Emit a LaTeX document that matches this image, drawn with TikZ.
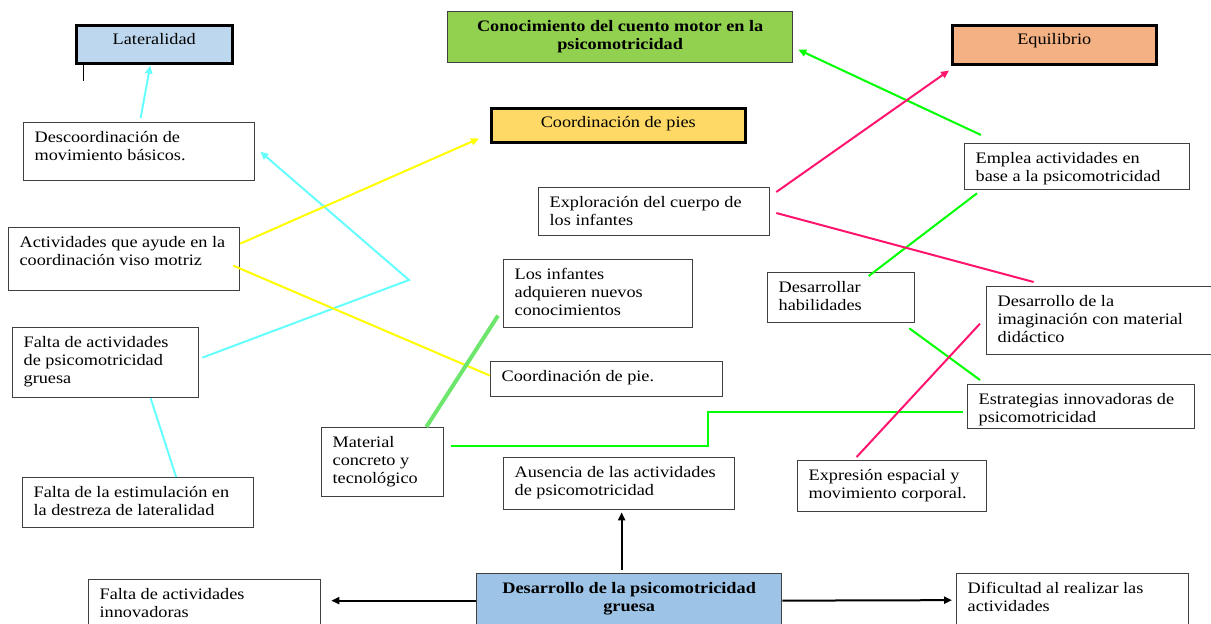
\documentclass[tikz,border=0pt]{standalone}
\usepackage{fontspec}
\setmainfont[FakeStretch=1.14]{Liberation Serif}
\usetikzlibrary{arrows.meta}
\definecolor{latblue}{RGB}{189,215,238}
\definecolor{hdrgreen}{RGB}{146,208,80}
\definecolor{eqorange}{RGB}{244,177,131}
\definecolor{piesyellow}{RGB}{255,217,102}
\definecolor{grublue}{RGB}{157,195,230}
\definecolor{boxgray}{RGB}{64,64,64}
\definecolor{cyanl}{RGB}{102,255,255}
\definecolor{yell}{RGB}{255,255,0}
\definecolor{grnl}{RGB}{0,255,0}
\definecolor{lgrnl}{RGB}{110,230,110}
\definecolor{pnkl}{RGB}{255,20,110}
\newcommand\bxsep{11}
\newcommand\bysep{7}
\newcommand\mkbox[7]{%
 \pgfmathsetmacro\mybw{#5-#3-2*\bxsep}%
 \pgfmathsetmacro\mybh{#6-#4-2*\bysep}%
 \node[#2, anchor=north west, inner xsep=\bxsep pt, inner ysep=\bysep pt] (#1) at (#3,#4) {\parbox[c][\mybh pt][t]{\mybw pt}{#7}};%
}
\tikzset{
 box/.style={draw=boxgray, line width=1.3pt, fill=white},
 hbox/.style={draw=black, line width=2.5pt},
 arr/.style={-{Triangle[length=8pt,width=7pt]}},
 cline/.style={line width=2pt},
}
\begin{document}
\begin{tikzpicture}[x=1pt,y=-1pt,font=\fontsize{16}{18.2}\selectfont]
\useasboundingbox (0,0) rectangle (1211,624);
% header boxes
\mkbox{lat}{hbox,fill=latblue}{75}{24}{231}{62}{\centering\strut Lateralidad\par}
\mkbox{con}{box,fill=hdrgreen}{447}{11}{792}{62}{\centering\bfseries\strut Conocimiento del cuento motor en la\\psicomotricidad\par}
\mkbox{equ}{hbox,fill=eqorange}{951}{24}{1155}{63}{\centering\strut Equilibrio\par}
\mkbox{pies}{hbox,fill=piesyellow}{490}{107}{744}{141}{\centering\strut Coordinación de pies\par}
% left column
\mkbox{desc}{box}{23}{122}{254}{180}{\raggedright\strut Descoordinación de\\movimiento básicos.}
\mkbox{act}{box}{8}{227}{239}{290}{\raggedright\strut Actividades que ayude en la\\coordinación viso motriz}
\mkbox{fal}{box}{12}{327}{198}{397}{\raggedright\strut Falta de actividades\\de psicomotricidad\\gruesa}
\mkbox{est}{box}{22}{477}{253}{527}{\raggedright\strut Falta de la estimulación en\\la destreza de lateralidad}
% middle
\mkbox{mat}{box}{321}{427}{443}{496}{\raggedright\strut Material\\concreto y\\tecnológico}
\mkbox{exp}{box}{538}{187}{769}{235}{\raggedright\strut Exploración del cuerpo de\\los infantes}
\mkbox{inf}{box}{503}{259}{692}{327}{\raggedright\strut Los infantes\\adquieren nuevos\\conocimientos}
\mkbox{pie}{box}{490}{361}{722}{396}{\raggedright\strut Coordinación de pie.}
\mkbox{aus}{box}{503}{457}{734}{509}{\raggedright\strut Ausencia de las actividades\\de psicomotricidad}
\mkbox{gru}{box,fill=grublue}{476}{573}{781}{630}{\centering\bfseries\strut Desarrollo de la psicomotricidad\\gruesa\par}
\mkbox{inn}{box}{88}{579}{320}{630}{\raggedright\strut Falta de actividades\\innovadoras}
\mkbox{dif}{box}{956}{573}{1188}{630}{\raggedright\strut Dificultad al realizar las\\actividades}
% right
\mkbox{xpr}{box}{797}{460}{986}{511}{\raggedright\strut Expresión espacial y\\movimiento corporal.}
\mkbox{emp}{box}{964}{143}{1189}{189}{\raggedright\strut Emplea actividades en\\base a la psicomotricidad}
\mkbox{des}{box}{767}{272}{914}{322}{\raggedright\strut Desarrollar\\habilidades}
\mkbox{ima}{box}{986}{286}{1215}{354}{\raggedright\strut Desarrollo de la\\imaginación con material\\didáctico}
\mkbox{estr}{box}{967}{384}{1194}{428}{\raggedright\strut Estrategias innovadoras de\\psicomotricidad}
% stray mark
\draw[line width=1pt] (83,65) -- (83,81);
% cyan connectors
\coordinate (cb) at (409,280);
\draw[cyanl, cline, arr] ([xshift=1.5pt,yshift=4pt]desc.north) -- ([xshift=-4pt,yshift=-1pt]lat.south);
\draw[cyanl, cline, arr] ([xshift=3pt,yshift=5pt]fal.east) -- (cb) -- ([xshift=5pt]desc.east);
\draw[cyanl, cline] ([xshift=45pt]fal.south) -- ([xshift=38pt]est.north);
% yellow connectors
\draw[yell, cline, arr] ([yshift=15.5pt]act.east) -- ([xshift=-11pt,yshift=5pt]pies.south west);
\draw[yell, cline] ([xshift=-7pt,yshift=-6.5pt]act.east) -- ([yshift=3.5pt]pie.west);
% green connectors
\draw[grnl, cline, arr] ([xshift=17pt,yshift=8pt]emp.north west) -- ([xshift=5pt,yshift=-12.5pt]con.east);
\draw[grnl, cline] ([xshift=13pt,yshift=-3pt]emp.south west) -- ([xshift=27.5pt,yshift=-4pt]des.north);
\draw[grnl, cline] ([xshift=-6pt,yshift=-5pt]des.south east) -- ([xshift=13pt,yshift=4pt]estr.north west);
\draw[lgrnl, line width=4pt] ([xshift=-18pt]mat.north east) -- ([xshift=-5pt,yshift=-22pt]inf.west);
\draw[grnl, cline] ([xshift=7pt,yshift=16.5pt]mat.east) -- ++(257,0) |- ([xshift=-4pt,yshift=-5pt]estr.west);
% pink connectors
\draw[pnkl, cline, arr] ([xshift=6pt,yshift=-5pt]exp.north east) -- ([xshift=-2pt,yshift=-5pt]equ.south west);
\draw[pnkl, cline] ([xshift=6pt,yshift=-26pt]exp.north east) -- ([xshift=-67.5pt,yshift=4pt]ima.north);
\draw[pnkl, cline] ([xshift=-35.5pt,yshift=3pt]xpr.north) -- ([xshift=-6pt,yshift=-3pt]ima.west);
% black connectors
\draw[black, line width=2pt, arr] ([xshift=-7.5pt,yshift=3pt]gru.north) -- ([xshift=2.5pt,yshift=-2pt]aus.south);
\draw[black, line width=2pt, arr] ([yshift=1.5pt]gru.west) -- ([xshift=10pt,yshift=4.5pt]inn.east);
\draw[black, line width=2pt, arr] ([yshift=1.5pt]gru.east) -- ([xshift=-4pt,yshift=2pt]dif.west);
\end{tikzpicture}
\end{document}
